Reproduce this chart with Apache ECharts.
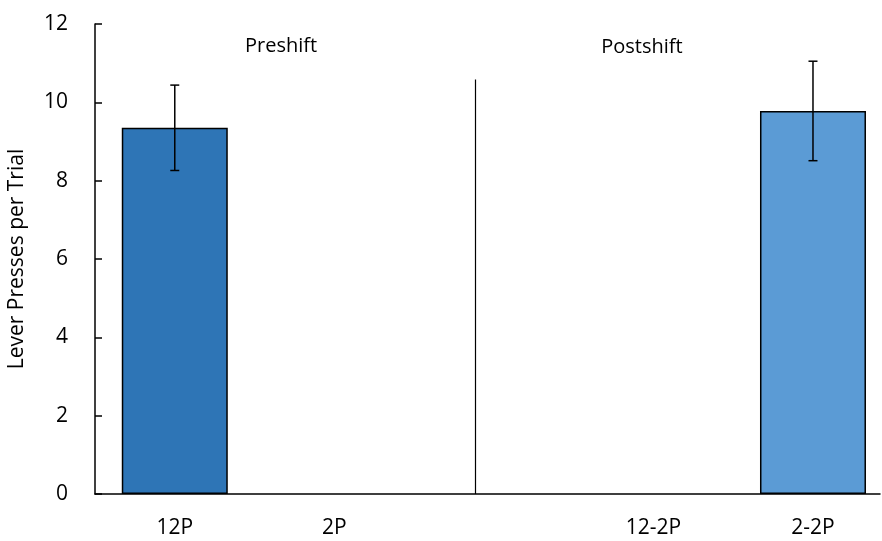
<!DOCTYPE html>
<html>
<head>
<meta charset="utf-8">
<script src="https://cdn.jsdelivr.net/npm/echarts@6/dist/echarts.min.js"></script>
<style>
  html, body { margin: 0; padding: 0; background: #fff; }
  #chart { width: 882px; height: 541px; }
</style>
</head>
<body>
<div id="chart"></div>
<script>
// Group labels along the x axis (slot 2 is an empty spacer between phases)
const categories = ['12P', '2P', '', '12-2P', '2-2P'];
// Mean lever presses per trial for each group (null = no bar drawn)
const means = [9.35, null, null, null, 9.78];
// Error half-widths for each group
const errors = [1.09, null, null, null, 1.27];
// Bar fill colours per group
const barColors = ['#2E75B6', '#2E75B6', '#2E75B6', '#5B9BD5', '#5B9BD5'];
// Y axis ticks
const yTicks = { min: 0, max: 12, interval: 2 };
// Vertical divider between the preshift and postshift phases
const divider = { x: 1.883, top: 10.58 };
// Phase headings
const phases = [
  { text: 'Preshift', x: 0.666, y: 11.43 },
  { text: 'Postshift', x: 2.928, y: 11.40 }
];

const FONT = '"Open Sans", "Noto Sans", sans-serif';
const labelSlots = categories.map((c, i) => i).filter(i => categories[i] !== '');

const barData = means.map((v, i) => ({
  value: [i, v],
  itemStyle: { color: barColors[i] }
}));
const errData = means.map((v, i) => (v == null ? null : [i, v, errors[i]])).filter(d => d);

const chart = echarts.init(document.getElementById('chart'), null, { renderer: 'canvas' });
chart.setOption({
  animation: false,
  backgroundColor: '#ffffff',
  grid: { left: 95, right: 2, top: 24, bottom: 47, containLabel: false, outerBoundsMode: 'none' },
  xAxis: {
    type: 'value',
    min: -0.5,
    max: 4.42,
    axisLine: { show: true, lineStyle: { color: '#000', width: 1.5 } },
    axisTick: { show: false },
    splitLine: { show: false },
    axisLabel: {
      customValues: labelSlots,
      formatter: v => categories[Math.round(v)],
      color: '#000',
      fontFamily: FONT,
      fontSize: 21,
      margin: 24
    }
  },
  yAxis: {
    type: 'value',
    min: yTicks.min,
    max: yTicks.max,
    interval: yTicks.interval,
    name: 'Lever Presses per Trial',
    nameLocation: 'middle',
    nameGap: 67,
    nameTextStyle: { color: '#000', fontFamily: FONT, fontSize: 21 },
    axisLine: { show: true, onZero: false, lineStyle: { color: '#000', width: 1.5 } },
    axisTick: { show: true, inside: true, length: 7, lineStyle: { color: '#000', width: 1.5 } },
    splitLine: { show: false },
    axisLabel: { color: '#000', fontFamily: FONT, fontSize: 21, margin: 27 }
  },
  series: [
    {
      type: 'bar',
      data: barData,
      barWidth: 106,
      itemStyle: { borderColor: '#000', borderWidth: 1.5 },
      markLine: {
        silent: true,
        symbol: 'none',
        label: { show: false },
        lineStyle: { color: '#000', width: 1.2, type: 'solid' },
        data: [[{ coord: [divider.x, 0] }, { coord: [divider.x, divider.top] }]]
      },
      z: 2
    },
    {
      type: 'custom',
      data: errData,
      z: 5,
      renderItem: function (params, api) {
        const x = api.value(0), m = api.value(1), e = api.value(2);
        const hi = api.coord([x, m + e]);
        const lo = api.coord([x, m - e]);
        const cap = 4.5;
        const style = { stroke: '#000', lineWidth: 1.5 };
        return {
          type: 'group',
          children: [
            { type: 'line', shape: { x1: hi[0], y1: hi[1], x2: lo[0], y2: lo[1] }, style },
            { type: 'line', shape: { x1: hi[0] - cap, y1: hi[1], x2: hi[0] + cap, y2: hi[1] }, style },
            { type: 'line', shape: { x1: lo[0] - cap, y1: lo[1], x2: lo[0] + cap, y2: lo[1] }, style }
          ]
        };
      }
    },
    {
      type: 'scatter',
      symbolSize: 0,
      itemStyle: { opacity: 1 },
      data: phases.map(p => ({ value: [p.x, p.y], name: p.text })),
      label: {
        show: true,
        position: 'inside',
        formatter: p => p.name,
        color: '#000',
        opacity: 1,
        fontFamily: FONT,
        fontSize: 20
      },
      silent: true,
      z: 6
    }
  ]
});
</script>
</body>
</html>
